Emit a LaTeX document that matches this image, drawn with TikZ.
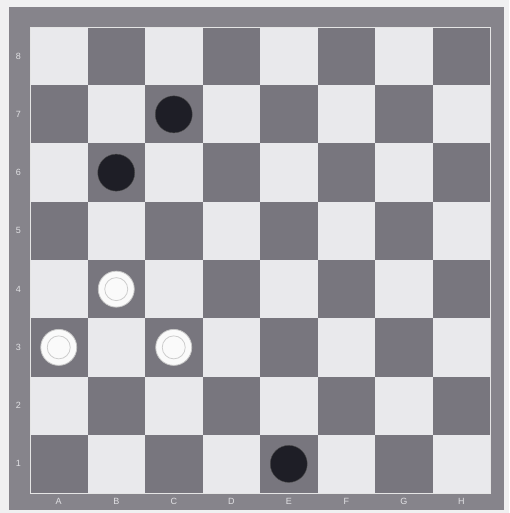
\documentclass[tikz,border=0pt]{standalone}
\usepackage{fontspec}
\setsansfont{Liberation Sans}

\definecolor{paper}{RGB}{240,240,241}
\definecolor{framegray}{RGB}{134,132,139}
\definecolor{darksq}{RGB}{120,118,126}
\definecolor{lightsq}{RGB}{233,233,236}
\definecolor{labelgray}{RGB}{225,225,228}
\definecolor{manblack}{RGB}{30,30,38}

\tikzset{
    darkpiece/.style={fill=manblack, draw=black!70, thin},
    lightpiece/.style={fill=white!96!gray, draw=gray!45, thick},
    boardlabel/.style={text=labelgray, font=\sffamily\fontsize{9}{9}\selectfont}
}

\begin{document}
\begin{tikzpicture}[x=1pt,y=-1pt]

        % Page and frame
        \useasboundingbox (0,0) rectangle (509,513);
        \fill[paper] (0,0) rectangle (509,513);
        \fill[framegray] (9,7) rectangle (504,510);

        \begin{scope}[shift={(30,493)}, x=57.5pt, y=58.25pt]

        % Squares
        \foreach \i in {0,...,7} {
            \foreach \j in {0,...,7} {
                \pgfmathparse{mod(\i+\j,2)==0 ? "darksq" : "lightsq"}
                \fill[\pgfmathresult] (\i,\j) rectangle ++(1,1);
            }
        }
        \draw[white!80!gray, very thin] (0,0) rectangle (8,8);

        % File labels
        \foreach \f [count=\i from 0] in {A,B,C,D,E,F,G,H} {
            \node[boardlabel] (file\f) at (\i+0.5,-0.15) {\f};
        }

        % Rank labels
        \foreach \r in {1,...,8} {
            \node[boardlabel] (rank\r) at (-0.2,\r-0.5) {\r};
        }

        % Black men
        \foreach \i/\j in {2/6, 1/5, 4/0} {
            \fill[darkpiece] (\i+0.5,\j+0.5) circle (18.5pt);
        }

        % White men
        \foreach \i/\j in {1/3, 0/2, 2/2} {
            \filldraw[lightpiece] (\i+0.5,\j+0.5) circle (18pt);
            \draw[gray!40, thick] (\i+0.5,\j+0.5) circle (11.5pt);
        }

        \end{scope}

    \end{tikzpicture}
\end{document}
